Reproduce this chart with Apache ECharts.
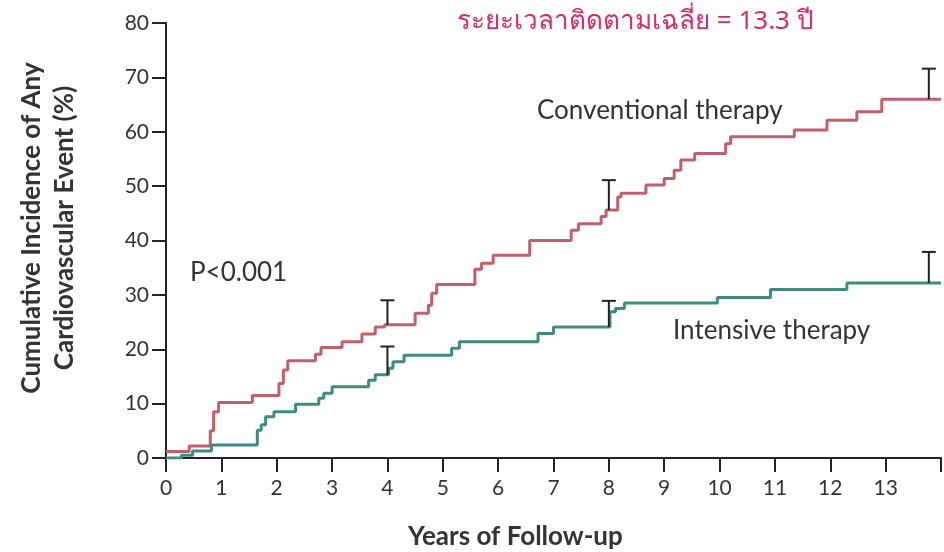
<!DOCTYPE html>
<html>
<head>
<meta charset="utf-8">
<script src="https://cdn.jsdelivr.net/npm/echarts@6/dist/echarts.min.js"></script>
<style>
html,body{margin:0;padding:0;background:#fff;}
#chart{width:944px;height:552px;}
</style>
</head>
<body>
<div id="chart"></div>
<script>
// Years of follow-up (event times) and cumulative incidence (%) after each step
var convTimes  = [0, 0.42, 0.80, 0.86, 0.95, 1.56, 2.04, 2.12, 2.20, 2.70, 2.80, 3.18, 3.54, 3.78, 3.95, 4.50, 4.74, 4.80, 4.89, 5.58, 5.70, 5.91, 6.57, 7.32, 7.45, 7.86, 7.95, 8.16, 8.22, 8.67, 9.00, 9.18, 9.30, 9.55, 10.11, 10.20, 11.35, 11.94, 12.48, 12.93, 14];
var convValues = [1.2, 2.2, 5.0, 8.5, 10.2, 11.5, 13.7, 16.2, 17.9, 19.1, 20.3, 21.4, 22.8, 24.1, 24.5, 26.6, 28.1, 30.3, 31.9, 34.7, 35.8, 37.3, 40.0, 41.9, 43.1, 44.4, 45.6, 48.0, 48.7, 50.2, 51.4, 52.9, 54.8, 56.0, 57.8, 59.1, 60.3, 62.1, 63.7, 66.0, 66.0];

var intTimes  = [0, 0.28, 0.48, 0.82, 1.65, 1.72, 1.80, 1.95, 2.34, 2.76, 2.85, 3.00, 3.66, 3.78, 4.02, 4.10, 4.30, 5.16, 5.30, 6.72, 7.00, 8.02, 8.12, 8.28, 9.96, 10.92, 12.30, 14];
var intValues = [0, 0.5, 1.3, 2.4, 5.1, 6.1, 7.6, 8.5, 9.9, 11.0, 11.9, 13.1, 14.3, 15.3, 16.5, 17.7, 18.9, 20.2, 21.4, 22.9, 24.1, 26.9, 27.5, 28.5, 29.5, 31.0, 32.2, 32.2];

// Confidence bars (upper whisker only)
var errTimes   = [4, 8, 13.78];
var convLower  = [24.5, 45.6, 66.0];
var convUpper  = [29.0, 51.1, 71.6];
var intLower   = [15.3, 24.1, 32.2];
var intUpper   = [20.5, 28.9, 37.9];

var xTickLabels = ['0','1','2','3','4','5','6','7','8','9','10','11','12','13'];
var yTickLabels = ['0','10','20','30','40','50','60','70','80'];

var convData = convTimes.map(function(t,i){return [t, convValues[i]];});
var intData = intTimes.map(function(t,i){return [t, intValues[i]];});
var errData = [];
errTimes.forEach(function(t,i){ errData.push([t, convLower[i], convUpper[i]]); });
errTimes.forEach(function(t,i){ errData.push([t, intLower[i], intUpper[i]]); });

var tickFont = "'Liberation Sans Narrow', Lato, sans-serif";
var chart = echarts.init(document.getElementById('chart'), null, {renderer:'canvas'});
chart.setOption({
  animation:false,
  backgroundColor:'#ffffff',
  grid:{left:166, right:0, top:23, bottom:94, containLabel:false},
  title:[
    {text:'ระยะเวลาติดตามเฉลี่ย = 13.3 ปี', left:452, top:4,
     textStyle:{color:'#dc2a64', fontSize:26, fontWeight:'normal', fontFamily:"'Noto Sans', sans-serif"}},
    {text:'Conventional therapy', left:532, top:93,
     textStyle:{color:'#333', fontSize:26, fontWeight:'normal', fontFamily:"Lato, sans-serif"}},
    {text:'Intensive therapy', left:668, top:313,
     textStyle:{color:'#333', fontSize:26, fontWeight:'normal', fontFamily:"Lato, sans-serif"}},
    {text:'P<0.001', left:185, top:255,
     textStyle:{color:'#333', fontSize:26, fontWeight:'normal', fontFamily:"Lato, sans-serif"}},
    {text:'Years of Follow-up', left:403, top:519,
     textStyle:{color:'#333', fontSize:26, fontWeight:'bold', fontFamily:"Lato, sans-serif"}}
  ],
  graphic:[
    {type:'text', x:48, y:228, rotation:Math.PI/2,
     style:{text:'Cumulative Incidence of Any\nCardiovascular Event (%)', fill:'#333',
            font:"bold 26px Lato, sans-serif", textAlign:'center', textVerticalAlign:'middle', lineHeight:33}}
  ],
  xAxis:{
    type:'value', min:0, max:14, interval:1,
    axisLine:{show:true, onZero:false, lineStyle:{color:'#222', width:2}},
    axisTick:{show:true, inside:false, length:14, lineStyle:{color:'#222', width:2}},
    axisLabel:{color:'#333', fontSize:21, fontFamily:tickFont, margin:20,
      formatter:function(v){ return xTickLabels[v] !== undefined ? xTickLabels[v] : ''; }},
    splitLine:{show:false}
  },
  yAxis:{
    type:'value', min:0, max:80, interval:10,
    axisLine:{show:true, lineStyle:{color:'#222', width:2}},
    axisTick:{show:true, inside:false, length:14, lineStyle:{color:'#222', width:2}},
    axisLabel:{color:'#333', fontSize:21, fontFamily:tickFont, margin:17,
      formatter:function(v){ return yTickLabels[v/10]; }},
    splitLine:{show:false}
  },
  series:[
    {type:'line', name:'Conventional therapy', step:'end', data:convData, symbol:'none',
     lineStyle:{color:'#c25f6c', width:3}, z:3},
    {type:'line', name:'Intensive therapy', step:'end', data:intData, symbol:'none',
     lineStyle:{color:'#3e8c80', width:3}, z:3},
    {type:'custom', name:'CI', data:errData, z:4,
     renderItem:function(params, api){
       var lo = api.coord([api.value(0), api.value(1)]);
       var hi = api.coord([api.value(0), api.value(2)]);
       var hw = 7;
       return {type:'group', children:[
         {type:'line', shape:{x1:lo[0], y1:lo[1], x2:hi[0], y2:hi[1]}, style:{stroke:'#222', lineWidth:2}},
         {type:'line', shape:{x1:hi[0]-hw, y1:hi[1], x2:hi[0]+hw, y2:hi[1]}, style:{stroke:'#222', lineWidth:2}}
       ]};
     }}
  ]
});
</script>
</body>
</html>
